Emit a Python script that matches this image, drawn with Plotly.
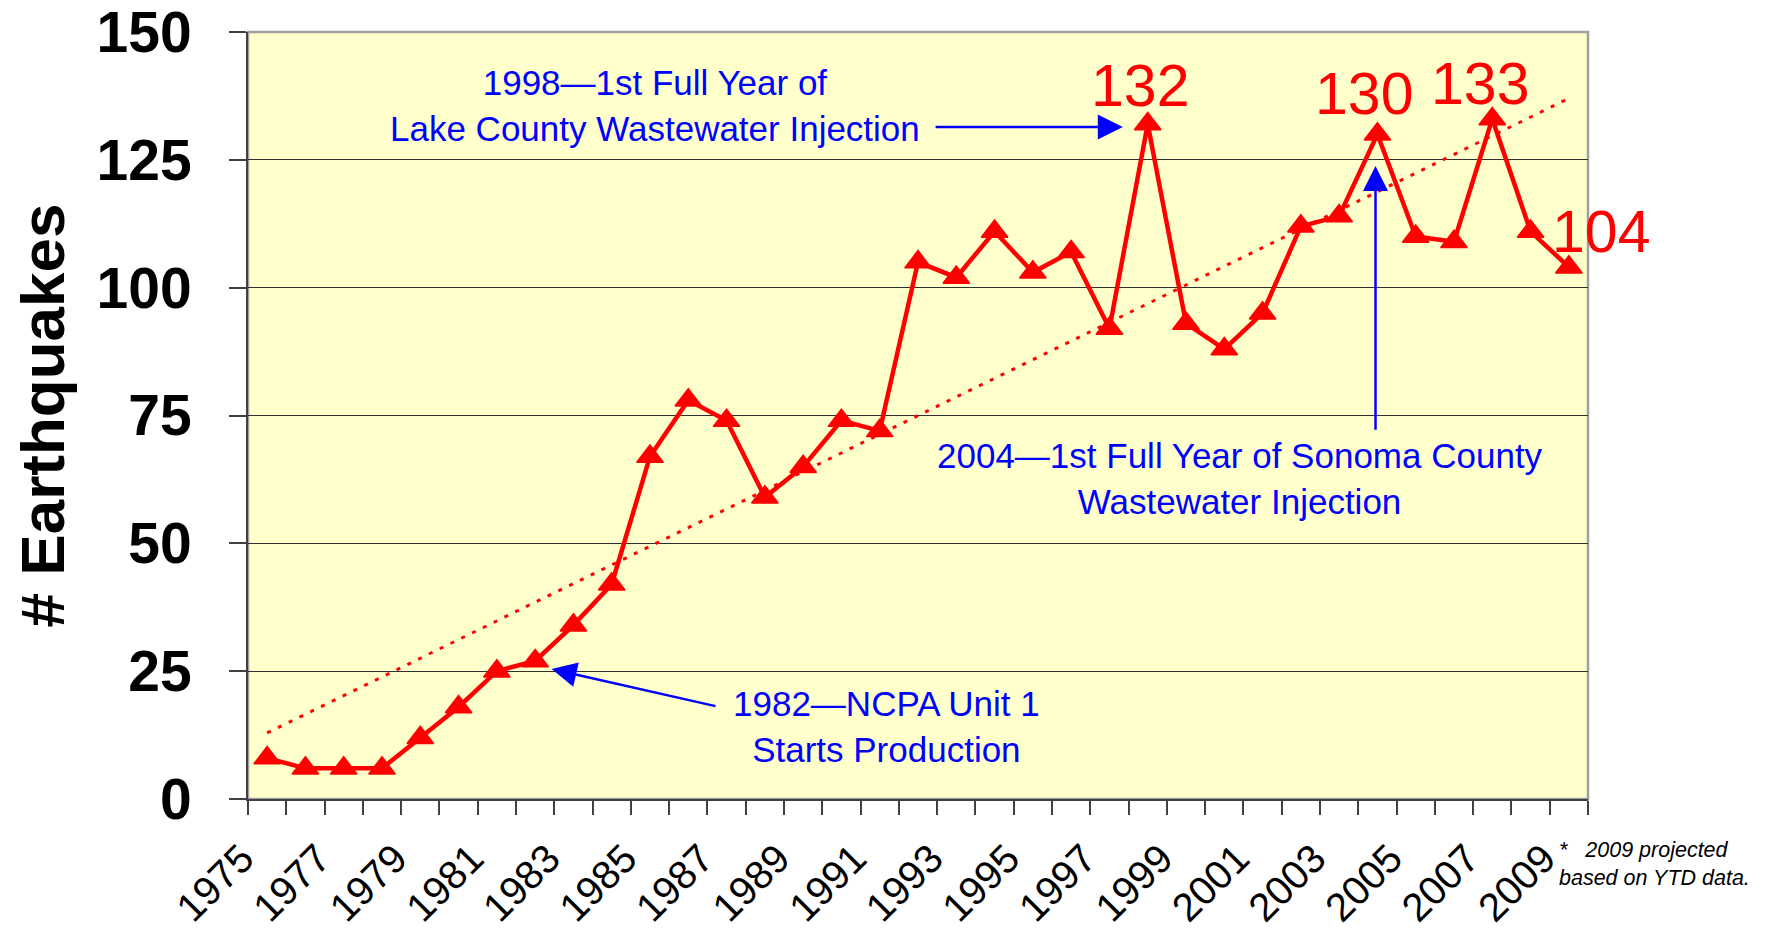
import numpy as np
import plotly.graph_objects as go

years = list(range(1975, 2010))
quakes = [8, 6, 6, 6, 12, 18, 25, 27, 34, 42, 67, 78, 74, 59, 65, 74, 72,
          105, 102, 111, 103, 107, 92, 132, 93, 88, 95, 112, 114, 130,
          110, 109, 133, 111, 104]
tick_years = list(range(1975, 2010, 2))
tick_labels = [str(y) for y in tick_years]
y_ticks = [0, 25, 50, 75, 100, 125, 150]

peak_labels = ["132", "130", "133"]
peak_label_pos = [(1997.8, 139.5), (2003.65, 137.9), (2006.68, 139.9)]
last_label = "104"

FONT = "Liberation Sans, Arial, sans-serif"
RED = "#FF0000"
BLUE = "#0000FF"

# linear trend (as in the original spreadsheet trendline)
idx = np.arange(len(years))
slope, intercept = np.polyfit(idx, quakes, 1)
trend = [intercept + slope * i for i in idx]

fig = go.Figure()
fig.add_trace(go.Scatter(x=years, y=trend, mode="lines",
                         line=dict(color=RED, width=3, dash="4px,8px"),
                         hoverinfo="skip", showlegend=False))
fig.add_trace(go.Scatter(x=years, y=quakes, mode="lines+markers",
                         line=dict(color=RED, width=4.5),
                         marker=dict(symbol="triangle-up", size=23, color=RED,
                                     line=dict(color=RED, width=1.5)),
                         showlegend=False, cliponaxis=False))

annotations = []
for (px, py), txt in zip(peak_label_pos, peak_labels):
    annotations.append(dict(x=px, y=py, xref="x", yref="y", text=txt, showarrow=False,
                            font=dict(family=FONT, size=59, color=RED),
                            xanchor="center", yanchor="middle"))
annotations.append(dict(x=1.0094, y=110.8, xref="paper", yref="y", text=last_label,
                        showarrow=False, font=dict(family=FONT, size=59, color=RED),
                        xanchor="center", yanchor="middle"))

ARROW = dict(showarrow=True, arrowhead=2, arrowsize=2, arrowwidth=2.5, arrowcolor=BLUE,
             text="", xref="x", yref="y", axref="x", ayref="y")

# blue explanatory notes
annotations.append(dict(x=1985.13, y=135.6, xref="x", yref="y",
                        text="1998\u20141st Full Year of<br>Lake County Wastewater Injection",
                        showarrow=False, align="center",
                        font=dict(family=FONT, size=35, color=BLUE)))
annotations.append(dict(x=1997.35, y=131.4, ax=1992.42, ay=131.4, **ARROW))

annotations.append(dict(x=2000.41, y=62.7, xref="x", yref="y",
                        text="2004\u20141st Full Year of Sonoma County<br>Wastewater Injection",
                        showarrow=False, align="center",
                        font=dict(family=FONT, size=35, color=BLUE)))
annotations.append(dict(x=2003.95, y=123.8, ax=2003.95, ay=71.9, **ARROW))

annotations.append(dict(x=1991.19, y=14.1, xref="x", yref="y",
                        text="1982\u2014NCPA Unit 1<br>Starts Production",
                        showarrow=False, align="center",
                        font=dict(family=FONT, size=35, color=BLUE)))
annotations.append(dict(x=1982.43, y=25.4, ax=1986.75, ay=18.1, **ARROW))

annotations.append(dict(x=0.9769, y=-0.085, xref="paper", yref="paper",
                        text="<i>*&nbsp;&nbsp;&nbsp;2009 projected<br>based on YTD data.</i>",
                        showarrow=False, align="left", xanchor="left", yanchor="middle",
                        font=dict(family=FONT, size=21.5, color="black")))

fig.update_layout(
    width=1765, height=934,
    margin=dict(l=240, r=185, t=23.5, b=143.4, autoexpand=False),
    paper_bgcolor="white",
    plot_bgcolor="#FFFFCC",
    font=dict(family=FONT, color="black"),
    annotations=annotations,
    shapes=[dict(type="rect", xref="paper", yref="paper", x0=0, y0=0, x1=1, y1=1,
                 line=dict(color="#A0A0A0", width=2.5), layer="below")],
)

fig.update_xaxes(
    range=[1974.5, 2009.5],
    tickmode="array", tickvals=tick_years, ticktext=tick_labels,
    tickangle=-45, tickfont=dict(family=FONT, size=40, color="black"),
    ticks="", ticklabelstandoff=18, ticklabelshift=-25,
    ticklabeloverflow="allow",
    minor=dict(tick0=1974.5, dtick=1, ticks="outside", ticklen=14,
               tickcolor="#404040", tickwidth=1.5, showgrid=False),
    showgrid=False, zeroline=False,
    showline=True, linecolor="#404040", linewidth=2,
)
fig.update_yaxes(
    range=[0, 150],
    tickmode="array", tickvals=y_ticks,
    tickfont=dict(family=FONT, size=57, color="black", weight="bold"),
    ticks="outside", ticklen=17, tickcolor="#404040", tickwidth=1.5,
    ticklabelstandoff=26, ticklabeloverflow="allow",
    showgrid=True, gridcolor="#303030", gridwidth=1,
    zeroline=False,
    showline=True, linecolor="#404040", linewidth=2,
    title=dict(text="# Earthquakes", standoff=13,
               font=dict(family=FONT, size=62, color="black", weight="bold")),
)

fig.write_html("out.html")
